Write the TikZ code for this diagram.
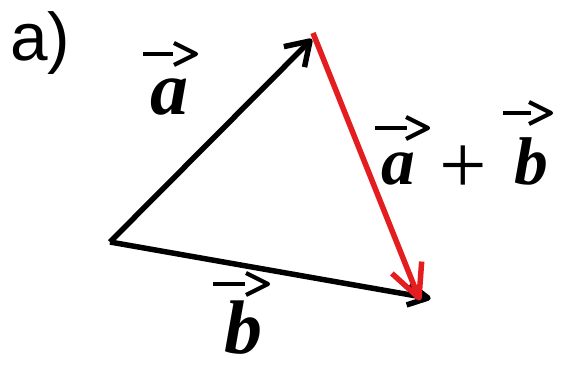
\documentclass[tikz,border=0pt]{standalone}
\usepackage{fontspec}
\setmainfont{Liberation Serif}
\setsansfont{Liberation Sans}
\usetikzlibrary{positioning,calc}

\definecolor{sumred}{RGB}{228,30,32}

\begin{document}
\begin{tikzpicture}[
  x=0.025cm, y=-0.025cm,
  vecline/.style={line width=3.9pt, line join=round},
  sumline/.style={vecline, sumred},
  overarrow/.style={line width=3pt, line join=round},
  veclabel/.style={inner sep=0pt, font=\fontsize{54}{60}\selectfont\bfseries\itshape},
  sumlabel/.style={inner sep=0pt, font=\fontsize{48}{54}\selectfont\bfseries\itshape},
]
  \useasboundingbox (0,0) rectangle (561,367);

  % Panel tag
  \node[inner sep=0pt, anchor=base west, font=\fontsize{48}{56}\selectfont\sffamily] (tag) at (10,61) {a)};

  % Points of the triangle
  \coordinate (O) at (110,242);
  \coordinate (A) at (310,41);
  \coordinate (B) at (428,298);
  \coordinate (T) at (313,33);
  \coordinate (S) at (419,298);

  % Vectors with their heads
  \draw[vecline] (O) -- (A);
  \draw[vecline] ($(A)!19pt!33:(O)$) -- (A) -- ($(A)!19pt!-33:(O)$);
  \draw[vecline] (O) -- (B);
  \draw[vecline] ($(B)!16pt!28:(O)$) -- (B) -- ($(B)!16pt!-28:(O)$);
  \draw[sumline] (T) -- (S);
  \draw[sumline] ($(S)!26pt!26:(T)$) -- (S) -- ($(S)!26pt!-26:(T)$);

  % Labels
  \node[veclabel] (la) at (169,97) {a};
  \node[veclabel] (lb) at (243,328) {b};
  \node[sumlabel] (sa) at (398,169) {a};
  \node[inner sep=0pt, font=\fontsize{60}{64}\selectfont] (plus) at (463,170) {+};
  \node[sumlabel] (sb) at (531,161) {b};

  % Arrows over the letters
  \draw[overarrow] ([shift={(-26,-43)}]la.center) -- ++(30,0);
  \draw[overarrow] ([shift={(5,-54)}]la.center) -- ++(22,11) -- ++(-22,11);
  \draw[overarrow] ([shift={(-30,-44)}]lb.center) -- ++(32,0);
  \draw[overarrow] ([shift={(3,-55)}]lb.center) -- ++(22,11) -- ++(-22,11);
  \draw[overarrow] ([shift={(-23,-41)}]sa.center) -- ++(32,0);
  \draw[overarrow] ([shift={(8,-52)}]sa.center) -- ++(22,11) -- ++(-22,11);
  \draw[overarrow] ([shift={(-28,-48)}]sb.center) -- ++(28,0);
  \draw[overarrow] ([shift={(-2,-59)}]sb.center) -- ++(22,11) -- ++(-22,11);

\end{tikzpicture}
\end{document}
